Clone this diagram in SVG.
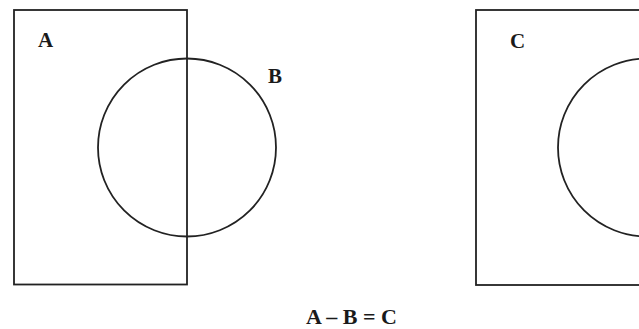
<svg xmlns="http://www.w3.org/2000/svg" width="639" height="329" viewBox="0 0 639 329">
<style>
.shape{fill:none;stroke:#222;stroke-width:1.8}
.lbl{font-family:"Liberation Serif","Times New Roman",serif;font-size:21px;font-weight:bold;fill:#1a1a1a}
</style>
<rect width="639" height="329" fill="#fff"/>
<g id="setA">
<rect class="shape" x="14" y="10" width="173" height="274.5"/>
<text class="lbl" x="38" y="47">A</text>
</g>
<g id="setB">
<circle class="shape" cx="187" cy="147.5" r="89"/>
<text class="lbl" x="268" y="83">B</text>
</g>
<g id="setC">
<rect class="shape" x="476" y="10" width="200" height="275"/>
<circle class="shape" cx="647" cy="147.5" r="89"/>
<text class="lbl" x="510" y="48">C</text>
</g>
<g id="connectors"></g>
<text class="lbl" x="351.5" y="324" text-anchor="middle" style="font-size:22px">A – B = C</text>
</svg>
